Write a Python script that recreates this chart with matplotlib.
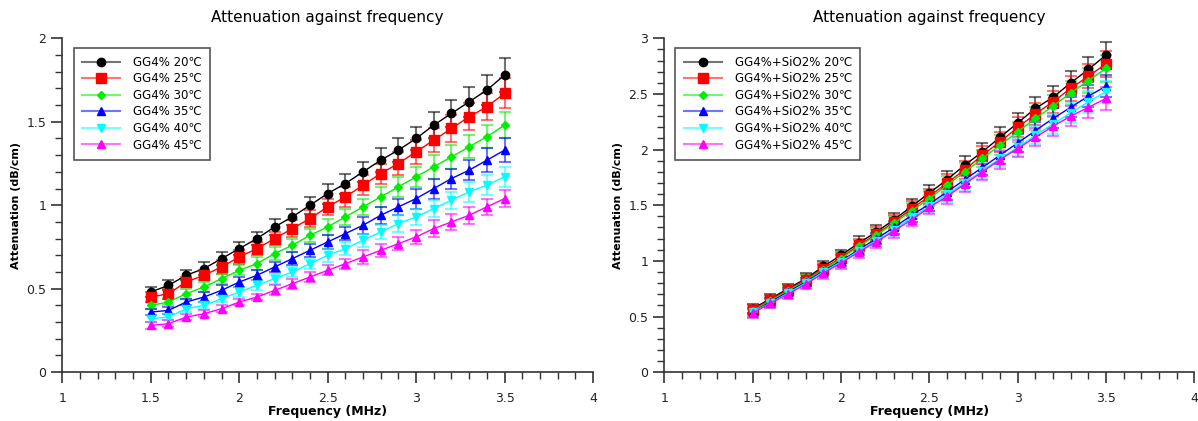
import matplotlib.pyplot as plt
import numpy as np
from matplotlib.ticker import MultipleLocator
from matplotlib.lines import Line2D
from matplotlib.colors import to_rgb

freq = [1.5, 1.6, 1.7, 1.8, 1.9, 2.0, 2.1, 2.2, 2.3, 2.4, 2.5,
        2.6, 2.7, 2.8, 2.9, 3.0, 3.1, 3.2, 3.3, 3.4, 3.5]

temps = ["20", "25", "30", "35", "40", "45"]

# GG4% samples
gg_20 = [0.48, 0.52, 0.58, 0.62, 0.68, 0.74, 0.80, 0.87, 0.93, 1.00, 1.07,
         1.13, 1.20, 1.27, 1.33, 1.40, 1.48, 1.55, 1.62, 1.69, 1.78]
gg_25 = [0.45, 0.47, 0.54, 0.58, 0.63, 0.69, 0.74, 0.80, 0.86, 0.92, 0.99,
         1.05, 1.12, 1.19, 1.25, 1.32, 1.39, 1.46, 1.53, 1.59, 1.67]
gg_30 = [0.40, 0.42, 0.47, 0.51, 0.56, 0.61, 0.65, 0.71, 0.76, 0.82, 0.87,
         0.93, 0.99, 1.05, 1.11, 1.17, 1.23, 1.29, 1.35, 1.41, 1.48]
gg_35 = [0.36, 0.37, 0.42, 0.45, 0.49, 0.54, 0.58, 0.63, 0.68, 0.73, 0.78,
         0.83, 0.88, 0.94, 0.99, 1.04, 1.10, 1.16, 1.21, 1.27, 1.33]
gg_40 = [0.32, 0.33, 0.38, 0.40, 0.44, 0.48, 0.52, 0.56, 0.60, 0.65, 0.70,
         0.74, 0.79, 0.84, 0.89, 0.93, 0.98, 1.03, 1.08, 1.12, 1.17]
gg_45 = [0.28, 0.29, 0.33, 0.35, 0.38, 0.42, 0.45, 0.49, 0.53, 0.57, 0.61,
         0.65, 0.69, 0.73, 0.77, 0.81, 0.86, 0.90, 0.94, 0.99, 1.04]

gg_err_20 = [0.03, 0.03, 0.03, 0.04, 0.04, 0.04, 0.04, 0.05, 0.05, 0.05, 0.06,
             0.06, 0.06, 0.07, 0.07, 0.07, 0.08, 0.08, 0.09, 0.09, 0.10]
gg_err_25 = [0.03, 0.03, 0.03, 0.03, 0.04, 0.04, 0.04, 0.04, 0.05, 0.05, 0.05,
             0.06, 0.06, 0.06, 0.07, 0.07, 0.07, 0.08, 0.08, 0.08, 0.09]
gg_err_30 = [0.02, 0.02, 0.03, 0.03, 0.03, 0.03, 0.04, 0.04, 0.04, 0.04, 0.05,
             0.05, 0.05, 0.06, 0.06, 0.06, 0.07, 0.07, 0.07, 0.07, 0.08]
gg_err_35 = [0.02, 0.02, 0.02, 0.03, 0.03, 0.03, 0.03, 0.03, 0.04, 0.04, 0.04,
             0.04, 0.05, 0.05, 0.05, 0.06, 0.06, 0.06, 0.06, 0.07, 0.07]
gg_err_40 = [0.02, 0.02, 0.02, 0.02, 0.02, 0.03, 0.03, 0.03, 0.03, 0.03, 0.04,
             0.04, 0.04, 0.04, 0.05, 0.05, 0.05, 0.05, 0.06, 0.06, 0.06]
gg_err_45 = [0.02, 0.02, 0.02, 0.02, 0.02, 0.02, 0.02, 0.03, 0.03, 0.03, 0.03,
             0.03, 0.04, 0.04, 0.04, 0.04, 0.05, 0.05, 0.05, 0.05, 0.05]

# GG4% + SiO2% samples
si_20 = [0.57, 0.66, 0.75, 0.84, 0.95, 1.05, 1.16, 1.26, 1.37, 1.49, 1.61,
         1.73, 1.86, 1.98, 2.11, 2.24, 2.37, 2.47, 2.60, 2.72, 2.85]
si_25 = [0.56, 0.65, 0.74, 0.83, 0.93, 1.03, 1.14, 1.24, 1.35, 1.47, 1.58,
         1.70, 1.82, 1.95, 2.07, 2.20, 2.32, 2.43, 2.55, 2.66, 2.77]
si_30 = [0.55, 0.64, 0.73, 0.82, 0.92, 1.02, 1.13, 1.23, 1.34, 1.45, 1.56,
         1.68, 1.80, 1.92, 2.04, 2.16, 2.28, 2.39, 2.51, 2.62, 2.73]
si_35 = [0.54, 0.63, 0.72, 0.81, 0.91, 1.00, 1.10, 1.20, 1.30, 1.41, 1.51,
         1.62, 1.73, 1.84, 1.95, 2.06, 2.17, 2.28, 2.38, 2.48, 2.57]
si_40 = [0.54, 0.62, 0.71, 0.80, 0.90, 0.99, 1.09, 1.18, 1.28, 1.39, 1.49,
         1.60, 1.70, 1.81, 1.92, 2.02, 2.13, 2.23, 2.33, 2.43, 2.52]
si_45 = [0.53, 0.62, 0.70, 0.79, 0.89, 0.98, 1.08, 1.17, 1.27, 1.37, 1.48,
         1.58, 1.69, 1.80, 1.91, 2.01, 2.11, 2.21, 2.30, 2.38, 2.46]

si_err_hi = [0.04, 0.04, 0.04, 0.05, 0.05, 0.05, 0.06, 0.06, 0.06, 0.07, 0.07,
             0.08, 0.08, 0.08, 0.09, 0.09, 0.10, 0.10, 0.11, 0.11, 0.12]
si_err_lo = [0.04, 0.04, 0.04, 0.04, 0.05, 0.05, 0.05, 0.05, 0.06, 0.06, 0.06,
             0.07, 0.07, 0.07, 0.08, 0.08, 0.08, 0.09, 0.09, 0.10, 0.10]

colors = ["black", "red", "#00ee00", "blue", "cyan", "magenta"]
markers = ["o", "s", "D", "^", "v", "^"]
msizes = [6, 7, 4.5, 6, 6, 6]

panels = [
    ("GG4%", [gg_20, gg_25, gg_30, gg_35, gg_40, gg_45],
     [gg_err_20, gg_err_25, gg_err_30, gg_err_35, gg_err_40, gg_err_45], 2),
    ("GG4%+SiO2%", [si_20, si_25, si_30, si_35, si_40, si_45],
     [si_err_hi, si_err_hi, si_err_hi, si_err_lo, si_err_lo, si_err_lo], 3),
]


def lighten(c, amount=0.45):
    r, g, b = to_rgb(c)
    return (r + (1 - r) * amount, g + (1 - g) * amount, b + (1 - b) * amount)


fig = plt.figure(figsize=(11.98, 4.21), dpi=100)
boxes = [[0.052, 0.116, 0.443, 0.793], [0.5545, 0.116, 0.4425, 0.793]]

for box, (name, series, errs, ymax) in zip(boxes, panels):
    ax = fig.add_axes(box)
    handles = []
    for i, (vals, err) in enumerate(zip(series, errs)):
        # error bars drawn lighter, then the line and markers on top
        ax.errorbar(freq, vals, yerr=err, fmt="none", ecolor=colors[i],
                    elinewidth=1.5, capsize=4, capthick=1.5, alpha=0.55,
                    zorder=2)
        ax.plot(freq, vals, color=colors[i], lw=1, marker=markers[i],
                ms=msizes[i], zorder=3)
        handles.append(Line2D([], [], color=lighten(colors[i]), lw=1.5,
                              marker=markers[i], ms=msizes[i],
                              markerfacecolor=colors[i],
                              markeredgecolor=colors[i],
                              label=f"{name} {temps[i]}\u2103"))
    ax.set_xlim(1, 4)
    ax.set_ylim(0, ymax)
    ax.xaxis.set_major_locator(MultipleLocator(0.5))
    ax.xaxis.set_minor_locator(MultipleLocator(0.1))
    ax.yaxis.set_major_locator(MultipleLocator(0.5))
    ax.yaxis.set_minor_locator(MultipleLocator(0.1))
    ax.set_xticklabels([f"{v:g}" for v in ax.get_xticks()])
    ax.set_yticklabels([f"{v:g}" for v in ax.get_yticks()])
    for s in ["top", "right"]:
        ax.spines[s].set_visible(False)
    for s in ["left", "bottom"]:
        ax.spines[s].set_color("#333333")
        ax.spines[s].set_linewidth(1.2)
    ax.tick_params(which="major", length=8, width=1.2, color="#333333",
                   labelsize=9, labelcolor="#222222")
    ax.tick_params(which="minor", length=5, width=1, color="#333333")
    ax.tick_params(axis="x", pad=6)
    ax.set_xlabel("Frequency (MHz)", fontsize=9, fontweight="bold", labelpad=0)
    ax.set_ylabel("Attenuation (dB/cm)", fontsize=8, fontweight="bold", labelpad=4)
    ax.set_title("Attenuation against frequency", fontsize=11, pad=12)
    leg = ax.legend(handles=handles, loc="upper left",
                    bbox_to_anchor=(0.01, 0.99), fontsize=8.5,
                    fancybox=False, edgecolor="#555555", framealpha=1,
                    handlelength=3.2, labelspacing=0.3, borderpad=0.7,
                    handletextpad=1.1)
    leg.get_frame().set_linewidth(1.2)

plt.savefig("out.png", dpi=100)
